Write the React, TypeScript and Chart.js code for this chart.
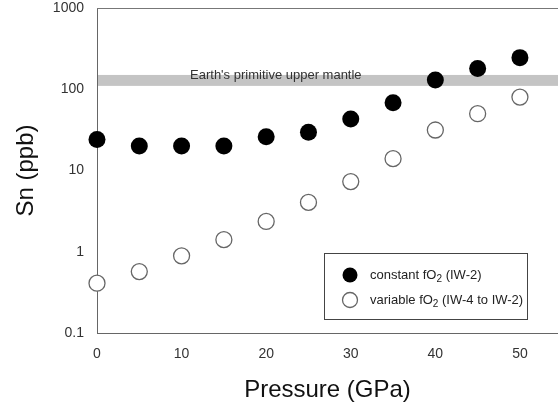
import React, { useEffect, useRef } from "react";
import { Chart, registerables } from "chart.js";

Chart.register(...registerables);

const pressures = [0, 5, 10, 15, 20, 25, 30, 35, 40, 45, 50];
const constantFO2 = [24, 20, 20, 20, 26, 29.5, 43, 68, 130, 180, 245];
const variableFO2 = [0.41, 0.57, 0.89, 1.41, 2.36, 4.05, 7.3, 14, 31.5, 50, 80];
const xTicks = [0, 10, 20, 30, 40, 50];
const yTicks = [0.1, 1, 10, 100, 1000];
const bandRange = [110, 150];
const bandLabel = "Earth's primitive upper mantle";
const legendLabels = [
  ["constant fO", "2", " (IW-2)"],
  ["variable fO", "2", " (IW-4 to IW-2)"],
];
const xTitle = "Pressure (GPa)";
const yTitle = "Sn (ppb)";

const FONT = "Arial, 'Liberation Sans', sans-serif";

const decorPlugin = {
  id: "decor",
  beforeDatasetsDraw(chart: any) {
    const { ctx, chartArea, scales } = chart;
    const y = scales.y;
    const yTop = y.getPixelForValue(bandRange[1]);
    const yBot = y.getPixelForValue(bandRange[0]);
    ctx.save();
    ctx.fillStyle = "#c4c4c4";
    ctx.fillRect(chartArea.left + 1, yTop, chartArea.right - chartArea.left, yBot - yTop);
    ctx.fillStyle = "#333";
    ctx.font = `13px ${FONT}`;
    ctx.textBaseline = "middle";
    ctx.textAlign = "left";
    ctx.fillText(bandLabel, scales.x.getPixelForValue(11.0), yTop + 0.5);
    // top frame line
    ctx.strokeStyle = "#777";
    ctx.lineWidth = 1;
    ctx.beginPath();
    ctx.moveTo(chartArea.left, chartArea.top + 0.5);
    ctx.lineTo(chartArea.right, chartArea.top + 0.5);
    ctx.stroke();
    ctx.restore();
  },
  afterDraw(chart: any) {
    const { ctx } = chart;
    ctx.save();
    const bx = 324, by = 253, bw = 203, bh = 66;
    ctx.fillStyle = "#fff";
    ctx.fillRect(bx, by, bw, bh);
    ctx.strokeStyle = "#444";
    ctx.lineWidth = 1;
    ctx.strokeRect(bx + 0.5, by + 0.5, bw, bh);
    const rows = [275, 300];
    rows.forEach((ry, i) => {
      ctx.beginPath();
      ctx.arc(350, ry, 7.5, 0, Math.PI * 2);
      if (i === 0) {
        ctx.fillStyle = "#000";
        ctx.fill();
      } else {
        ctx.fillStyle = "#fff";
        ctx.fill();
        ctx.strokeStyle = "#666";
        ctx.lineWidth = 1.3;
        ctx.stroke();
      }
      const [a, sub, b] = legendLabels[i];
      ctx.fillStyle = "#222";
      ctx.textBaseline = "middle";
      ctx.textAlign = "left";
      ctx.font = `13px ${FONT}`;
      let x = 370;
      ctx.fillText(a, x, ry);
      x += ctx.measureText(a).width;
      ctx.font = `10px ${FONT}`;
      ctx.fillText(sub, x, ry + 4);
      x += ctx.measureText(sub).width;
      ctx.font = `13px ${FONT}`;
      ctx.fillText(b, x, ry);
    });
    ctx.restore();
  },
};

export default function App() {
  const ref = useRef<HTMLCanvasElement>(null);
  useEffect(() => {
    const canvas = ref.current!;
    const chart = new Chart(canvas, {
      type: "scatter",
      data: {
        datasets: [
          {
            label: "constant",
            data: pressures.map((p, i) => ({ x: p, y: constantFO2[i] })),
            pointRadius: 8.5,
            pointBackgroundColor: "#000",
            pointBorderColor: "#000",
            pointBorderWidth: 0,
          },
          {
            label: "variable",
            data: pressures.map((p, i) => ({ x: p, y: variableFO2[i] })),
            pointRadius: 8,
            pointBackgroundColor: "#fff",
            pointBorderColor: "#666",
            pointBorderWidth: 1.3,
          },
        ],
      },
      options: {
        responsive: false,
        animation: false,
        clip: false,
        layout: { autoPadding: false, padding: { top: 8, left: 0, right: 0, bottom: 0 } },
        plugins: { legend: { display: false }, tooltip: { enabled: false } },
        scales: {
          x: {
            type: "linear",
            min: 0,
            max: 54.5,
            afterFit: (s: any) => { s.height = 74; s.paddingLeft = 0; s.paddingRight = 0; },
            afterBuildTicks: (s: any) => { s.ticks = xTicks.map((v) => ({ value: v })); },
            grid: { display: false, drawTicks: true, tickLength: 5, tickColor: "#666" },
            border: { display: true, color: "#666", width: 1 },
            ticks: { color: "#333", font: { size: 14, family: FONT }, padding: 8, callback: (v: any) => String(v) },
            title: { display: true, text: xTitle, color: "#111", font: { size: 24, family: FONT }, padding: { top: 0, bottom: 2 } },
          },
          y: {
            type: "logarithmic",
            min: 0.1,
            max: 1000,
            afterFit: (s: any) => { s.width = 97; s.paddingTop = 0; s.paddingBottom = 0; },
            afterBuildTicks: (s: any) => { s.ticks = yTicks.map((v) => ({ value: v })); },
            grid: { display: false, drawTicks: true, tickLength: 5, tickColor: "#666" },
            border: { display: true, color: "#666", width: 1 },
            ticks: { color: "#333", font: { size: 14, family: FONT }, padding: 8, callback: (v: any) => String(v) },
            title: { display: true, text: yTitle, color: "#111", font: { size: 24, family: FONT }, padding: { top: 12, bottom: 0 } },
          },
        },
      },
      plugins: [decorPlugin],
    } as any);
    return () => chart.destroy();
  }, []);
  return (
    <div style={{ position: "absolute", left: 0, top: 0, width: 558, height: 407, background: "#fff" }}>
      <canvas ref={ref} width={558} height={407} style={{ display: "block" }} />
    </div>
  );
}
